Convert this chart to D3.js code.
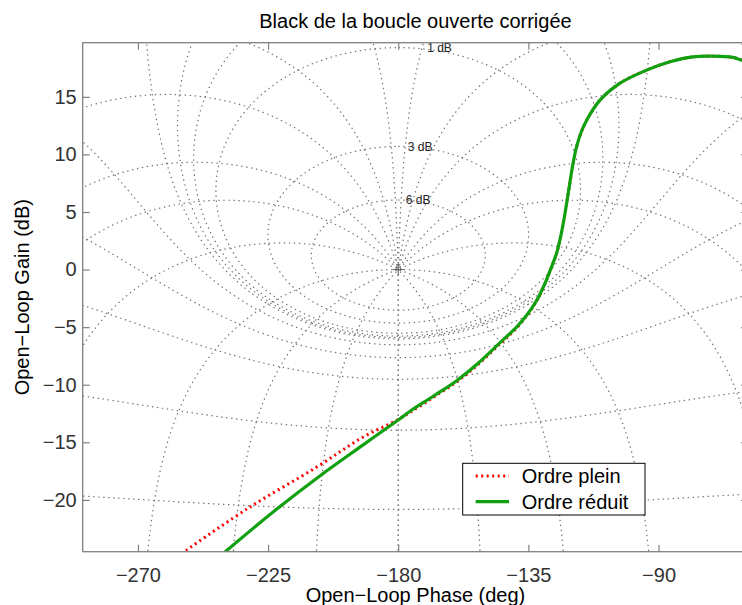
<!DOCTYPE html>
<html><head><meta charset="utf-8">
<script src="https://cdn.jsdelivr.net/npm/d3@7"></script>
<style>
body{margin:0;background:#fff}
text{font-family:"Liberation Sans",Arial,Helvetica,sans-serif}
</style>
</head><body>
<svg id="c" width="742" height="605"></svg>
<script>
// ---- data ----
const phaseTicks = [-270, -225, -180, -135, -90];
const gainTicks = [-20, -15, -10, -5, 0, 5, 10, 15];
const reduitPhase = [-242.1,-239.3,-222.0,-207.0,-192.0,-179.4,-175.9,-167.9,-159.8,-152.9,-144.8,-139.1,-135.6,-132.1,-129.3,-127.2,-125.4,-123.9,-122.6,-121.5,-120.5,-119.5,-118.3,-116.8,-114.85,-110.25,-103.3,-94.1,-86.05,-78.1,-71.2,-64.3,-61.2,-54.9];
const reduitGain  = [-25.0,-24.39,-20.8,-17.9,-15.2,-12.95,-12.3,-11.0,-9.65,-8.25,-6.35,-5.0,-3.97,-2.67,-1.22,0.1,1.3,2.8,4.5,6.2,7.8,9.3,10.7,11.9,12.97,14.71,16.19,17.32,18.04,18.47,18.53,18.42,18.19,17.84];
const pleinPhase = [-256.5,-253.4,-231.3,-208.2,-192.1,-180.55,-175.9,-167.9,-159.8,-152.9,-144.8,-139.1,-135.6,-132.1,-129.3,-127.2,-125.4,-123.9,-122.6,-121.5,-120.5,-119.5,-118.3,-116.8,-114.85,-110.25,-103.3,-94.1,-86.05,-78.1,-71.2,-64.3,-61.2,-54.9];
const pleinGain  = [-24.95,-24.39,-20.63,-17.15,-14.54,-13.09,-12.4,-11.1,-9.75,-8.35,-6.45,-5.08,-4.03,-2.7,-1.25,0.07,1.27,2.8,4.5,6.2,7.8,9.3,10.7,11.9,12.97,14.71,16.19,17.32,18.04,18.47,18.53,18.42,18.19,17.84];
const seriesNames = ["Ordre plein", "Ordre réduit"];
// Nichols chart grid (closed-loop gain in dB, closed-loop phase in deg)
const gridGainsDb = [6, 3, 1, 0.5, 0.25, 0, -1, -3, -6, -12, -20, -40];
const gridPhasesDeg = [1, 5, 10, 20, 30, 50, 90, 120, 150, 180];
const labelGainsDb = [6, 3, 1];

// ---- layout ----
const svg = d3.select("#c");
const L = 82.7, T = 42.7, B = 551.7, R = 748.2;
const x = d3.scaleLinear().domain([-289.1, -59]).range([L, R]);
const y = d3.scaleLinear().domain([-24.5, 19.7]).range([B, T]);

svg.append("defs").append("clipPath").attr("id", "clip")
  .append("rect").attr("x", L).attr("y", T).attr("width", R - L).attr("height", B - T);

const gridG = svg.append("g").attr("clip-path", "url(#clip)");

// complex helpers
function cdiv(a, b) { const d = b[0]*b[0] + b[1]*b[1]; return [(a[0]*b[0] + a[1]*b[1]) / d, (a[1]*b[0] - a[0]*b[1]) / d]; }
function olPoint(m, thDeg) {
  const th = thDeg * Math.PI / 180;
  const Tc = [m * Math.cos(th), m * Math.sin(th)];
  const G = cdiv(Tc, [1 - Tc[0], -Tc[1]]);
  return { ph: Math.atan2(G[1], G[0]) * 180 / Math.PI, db: 20 * Math.log10(Math.hypot(G[0], G[1])) };
}
function unwrap(pts, startPh) {
  let prev = null, off = 0;
  const out = [];
  pts.forEach((p, i) => {
    let ph = p.ph;
    if (i === 0) { off = Math.round((startPh - ph) / 360) * 360; }
    else {
      while (ph + off - prev > 180) off -= 360;
      while (ph + off - prev < -180) off += 360;
    }
    const v = ph + off; prev = v;
    out.push([v, p.db]);
  });
  return out;
}
function thin(pts) {
  const out = [];
  let last = null;
  pts.forEach(p => {
    const px = [x(p[0]), y(Math.max(-80, Math.min(80, p[1])))];
    if (!last || Math.hypot(px[0] - last[0], px[1] - last[1]) > 1.2) { out.push(px); last = px; }
  });
  return out;
}
const gline = d3.line();
function drawGrid(pts) {
  [-360, 0, 360].forEach(k => {
    const sh = pts.map(p => [p[0] + k, p[1]]);
    gridG.append("path").attr("d", gline(thin(sh)))
      .attr("fill", "none").attr("stroke", "#707070").attr("stroke-width", 1.2)
      .attr("stroke-dasharray", "1.4,3.6");
  });
}
// closed-loop gain contours
gridGainsDb.forEach(gdb => {
  const m = Math.pow(10, gdb / 20);
  const raw = [];
  const N = 4000;
  for (let i = 0; i <= N; i++) {
    let th = -360 * i / N;
    if (gdb === 0) th = -0.02 - 359.96 * i / N;
    raw.push(olPoint(m, th));
  }
  const start = m > 1 ? -180 : (gdb === 0 ? -90 : 0);
  drawGrid(unwrap(raw, start));
});
// closed-loop phase contours
gridPhasesDeg.forEach(p => {
  [-p, p].forEach(th => {
    const raw = [];
    for (let s = -80; s <= 80; s += 0.01) raw.push(olPoint(Math.pow(10, s / 20), th));
    drawGrid(unwrap(raw, th > 0 ? th - 360 : th));
  });
});
// centre marker
svg.append("path").attr("d", `M${x(-180)-5.5},${y(0)}H${x(-180)+5.5}M${x(-180)},${y(0)-5.5}V${y(0)+5.5}`)
  .attr("stroke", "#666").attr("stroke-width", 1.1);
// gain labels
const labelOffsetDeg = { 6: 2.6, 3: 3.3, 1: 10.0 };
labelGainsDb.forEach(gdb => {
  const m = Math.pow(10, gdb / 20);
  const top = 20 * Math.log10(m / (m - 1));
  svg.append("text").attr("x", x(-180 + labelOffsetDeg[gdb])).attr("y", y(top) + 4.5)
    .attr("font-size", 12).attr("fill", "#222").text(gdb + " dB");
});

// ---- series ----
const dataG = svg.append("g").attr("clip-path", "url(#clip)");
const line = d3.line().x(d => x(d[0])).y(d => y(d[1])).curve(d3.curveCatmullRom.alpha(0.5));
dataG.append("path").datum(d3.zip(pleinPhase, pleinGain)).attr("d", line)
  .attr("fill", "none").attr("stroke", "#ff0000").attr("stroke-width", 3).attr("stroke-dasharray", "2,3.5");
dataG.append("path").datum(d3.zip(reduitPhase, reduitGain)).attr("d", line)
  .attr("fill", "none").attr("stroke", "#10a010").attr("stroke-width", 3.2);

// ---- axes ----
const fmt = d => d3.format("d")(d).replace("-", "\u2212");
const axColor = "#808080";
function styleAxis(g) {
  g.select(".domain").remove();
  g.selectAll(".tick line").attr("stroke", axColor).attr("stroke-width", 1.2);
  g.selectAll(".tick text").attr("fill", "#333").attr("font-size", 20)
    .attr("font-family", '"Liberation Sans",Arial,sans-serif');
}
svg.append("g").attr("transform", `translate(0,${B})`)
  .call(d3.axisBottom(x).tickValues(phaseTicks).tickSize(-7).tickPadding(16).tickFormat(fmt)).call(styleAxis);
svg.append("g").attr("transform", `translate(0,${T})`)
  .call(d3.axisTop(x).tickValues(phaseTicks).tickSize(-7).tickFormat("")).call(styleAxis);
svg.append("g").attr("transform", `translate(${L},0)`)
  .call(d3.axisLeft(y).tickValues(gainTicks).tickSize(-7).tickPadding(6).tickFormat(fmt)).call(styleAxis);
svg.append("g").attr("transform", `translate(${R},0)`)
  .call(d3.axisRight(y).tickValues(gainTicks).tickSize(-7).tickFormat("")).call(styleAxis);
svg.append("rect").attr("x", L).attr("y", T).attr("width", R - L).attr("height", B - T)
  .attr("fill", "none").attr("stroke", axColor).attr("stroke-width", 1.3);

// titles
const cx = (L + R) / 2;
svg.append("text").attr("x", cx).attr("y", 28).attr("text-anchor", "middle")
  .attr("font-size", 20).attr("fill", "#000").text("Black de la boucle ouverte corrigée");
svg.append("text").attr("x", cx).attr("y", 602).attr("text-anchor", "middle")
  .attr("font-size", 20).attr("fill", "#000").text("Open\u2212Loop Phase (deg)");
svg.append("text").attr("transform", `translate(29,${(T + B) / 2}) rotate(-90)`).attr("text-anchor", "middle")
  .attr("font-size", 20).attr("fill", "#000").text("Open\u2212Loop Gain (dB)");

// ---- legend ----
const lg = svg.append("g");
lg.append("rect").attr("x", 462.7).attr("y", 463.3).attr("width", 182.3).attr("height", 51.7)
  .attr("fill", "#fff").attr("stroke", "#000").attr("stroke-width", 1);
const legStyles = [
  { stroke: "#ff0000", w: 3, dash: "2,3.5" },
  { stroke: "#10a010", w: 3.2, dash: null }
];
seriesNames.forEach((name, i) => {
  const yy = 476 + i * 25.7;
  lg.append("line").attr("x1", 475.7).attr("x2", 509).attr("y1", yy).attr("y2", yy)
    .attr("stroke", legStyles[i].stroke).attr("stroke-width", legStyles[i].w)
    .attr("stroke-dasharray", legStyles[i].dash);
  lg.append("text").attr("x", 521.7).attr("y", yy + 7).attr("font-size", 20).attr("fill", "#000").text(name);
});
</script>
</body></html>
